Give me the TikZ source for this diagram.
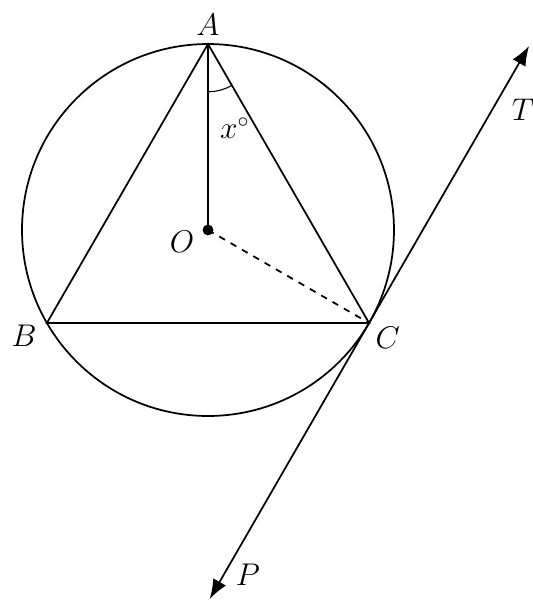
\documentclass[tikz,border=0pt]{standalone}
\usetikzlibrary{positioning, calc, arrows.meta}
\begin{document}
\begin{tikzpicture}[line width=0.8pt, lbl/.style={font=\Large}]
	% Frame with the reference margins
	\useasboundingbox (-3.355,-5.968) rectangle (5.242,3.710);
	
	% Centre and points on the circle
	\coordinate (O) at (0,0);
	\coordinate (A) at (90:3);
	\coordinate (B) at (210:3);
	\coordinate (C) at (-30:3);
	\coordinate (T) at ($(C)+(60:5.16)$);
	\coordinate (P) at ($(C)+(240:5.14)$);
	
	% Circle and triangle
	\draw (O) circle (3);
	\draw (A) -- (B) -- (C) -- cycle;
	
	% Radii
	\draw[line width=0.5pt] (A) -- (O);
	\draw[dashed] (O) -- (C);
	\fill (O) circle (2.5pt);
	
	% Tangent at C
	\draw[{Latex[length=9pt]}-{Latex[length=9pt]}] (P) -- (T);
	
	% Angle mark at A
	\draw[line width=0.5pt] ($(A)+(-90:0.77)$) arc (-90:-60:0.77);
	
	% Labels
	\node[lbl, above=0pt of A] (lA) {$A$};
	\node[lbl] (lB) at ($(B)+(-0.37,-0.2)$) {$B$};
	\node[lbl] (lC) at ($(C)+(0.3,-0.24)$) {$C$};
	\node[lbl] (lO) at (-0.42,-0.19) {$O$};
	\node[lbl] (lx) at (0.435,1.645) {$x^\circ$};
	\node[lbl] (lT) at (5.08,1.94) {$T$};
	\node[lbl] (lP) at (0.645,-5.56) {$P$};
\end{tikzpicture}
\end{document}
